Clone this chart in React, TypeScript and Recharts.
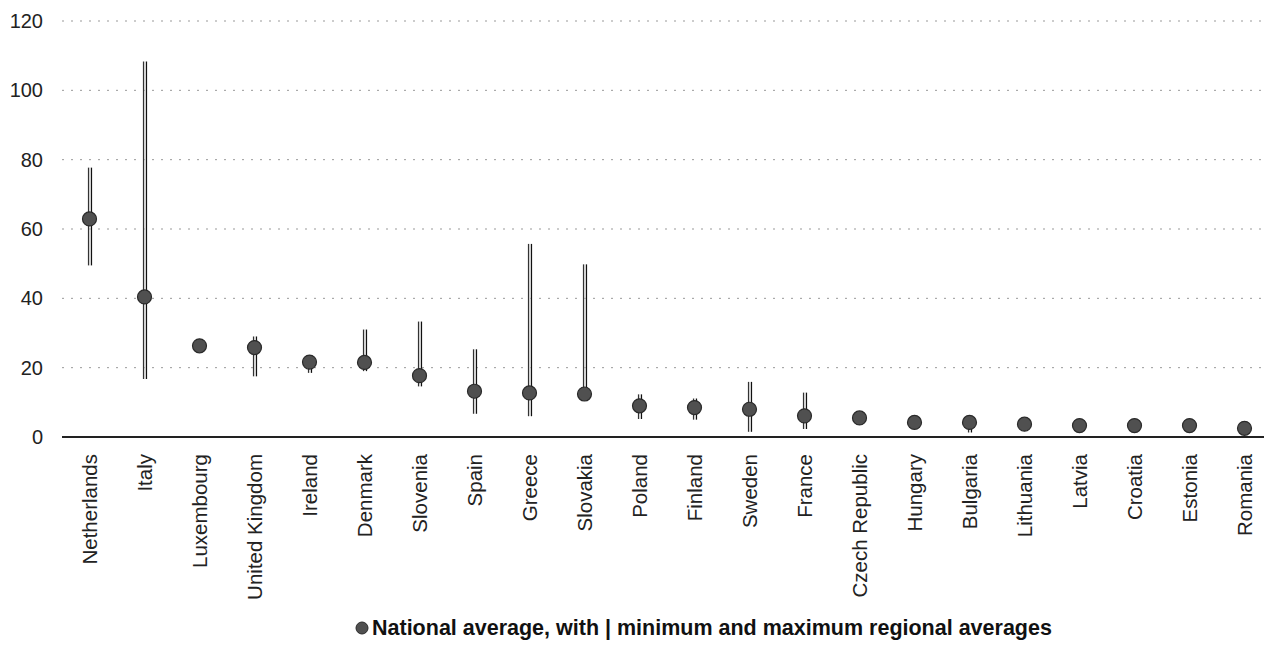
import React from "react";
import {
  ComposedChart, Bar, Scatter, XAxis, YAxis, CartesianGrid,
} from "recharts";

const countries = [
  "Netherlands", "Italy", "Luxembourg", "United Kingdom", "Ireland", "Denmark",
  "Slovenia", "Spain", "Greece", "Slovakia", "Poland", "Finland", "Sweden",
  "France", "Czech Republic", "Hungary", "Bulgaria", "Lithuania", "Latvia",
  "Croatia", "Estonia", "Romania",
];

// national average
const national = [
  62.9, 40.4, 26.3, 25.8, 21.6, 21.5, 17.7, 13.2, 12.7, 12.4, 9.0, 8.5, 8.0,
  6.1, 5.5, 4.2, 4.2, 3.7, 3.3, 3.3, 3.3, 2.5,
];

// min / max regional averages (null = no regional spread shown)
const regionMin = [
  49.5, 16.7, null, 17.5, 18.5, 19, 14.6, 6.7, 6, 10.8, 5.2, 5, 1.5,
  2.3, null, null, 1.3, null, null, null, null, null,
];
const regionMax = [
  77.7, 108.3, null, 29, 22, 31, 33.3, 25.3, 55.7, 49.8, 12.3, 11.1, 15.9,
  12.8, null, null, 4.5, null, null, null, null, null,
];

const yTicks = [0, 20, 40, 60, 80, 100, 120];

const data = countries.map((name, i) => ({
  name,
  avg: national[i],
  range: regionMin[i] != null ? [regionMin[i], regionMax[i]] : null,
}));

const FONT = "'Liberation Sans', Arial, sans-serif";

// double thin vertical line for the min-max span
const RangeShape = (props: any) => {
  const { x, y, width, height } = props;
  if (height == null || isNaN(height)) return null;
  const cx = x + width / 2;
  return (
    <g>
      <line x1={cx - 1.5} x2={cx - 1.5} y1={y} y2={y + height} stroke="#333" strokeWidth={1.2} />
      <line x1={cx + 1.5} x2={cx + 1.5} y1={y} y2={y + height} stroke="#111" strokeWidth={1.2} />
      <line x1={cx} x2={cx} y1={y} y2={y + height} stroke="#bbb" strokeWidth={1} />
    </g>
  );
};

const Dot = (props: any) => {
  const { cx, cy } = props;
  return <circle cx={cx} cy={cy} r={7} fill="#505050" stroke="#2a2a2a" strokeWidth={1.2} />;
};

const CountryTick = (props: any) => {
  const { x, y, payload } = props;
  return (
    <text
      x={x}
      y={y + 9}
      transform={`rotate(-90, ${x}, ${y + 9})`}
      textAnchor="end"
      dominantBaseline="central"
      fontSize={20.5}
      fontFamily={FONT}
      fill="#222"
    >
      {payload.value}
    </text>
  );
};

export default function App() {
  return (
    <div style={{ margin: -8, width: 1272, height: 650, position: "relative", background: "#fff" }}>
      <ComposedChart
        width={1272}
        height={650}
        data={data}
        margin={{ top: 21, right: 0, left: 0, bottom: 0 }}
      >
        <CartesianGrid vertical={false} stroke="#999" strokeDasharray="2 7" />
        <XAxis
          dataKey="name"
          interval={0}
          height={213}
          tickLine={false}
          axisLine={{ stroke: "#222", strokeWidth: 2 }}
          tick={<CountryTick />}
        />
        <YAxis
          width={62}
          domain={[0, 120]}
          ticks={yTicks}
          axisLine={false}
          tickLine={false}
          tickMargin={13}
          tick={{ fontSize: 20, fill: "#222", fontFamily: FONT }}
        />
        <Bar dataKey="range" barSize={4} shape={<RangeShape />} isAnimationActive={false} />
        <Scatter dataKey="avg" shape={<Dot />} isAnimationActive={false} />
      </ComposedChart>
      <div
        style={{
          position: "absolute",
          top: 615,
          left: 355,
          display: "flex",
          alignItems: "center",
          fontFamily: FONT,
          fontWeight: "bold",
          fontSize: 21.5,
          lineHeight: "26px",
          color: "#111",
          whiteSpace: "nowrap",
        }}
      >
        <svg width={14} height={14} style={{ marginRight: 3 }}>
          <circle cx={7} cy={7} r={6} fill="#505050" stroke="#2a2a2a" />
        </svg>
        National average, with | minimum and maximum regional averages
      </div>
    </div>
  );
}
